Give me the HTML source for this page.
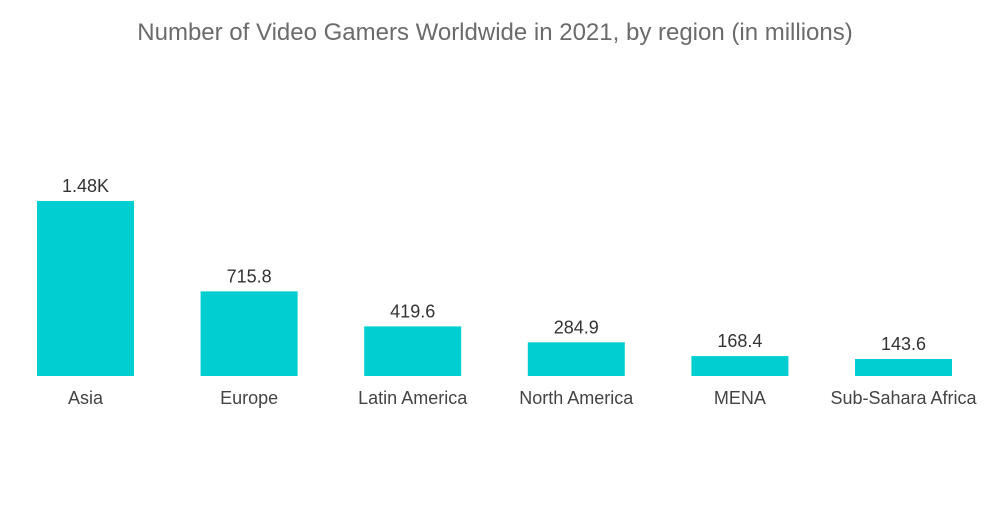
<!DOCTYPE html>
<html><head><meta charset="utf-8"><style>
body{margin:0;background:#fff;width:1000px;height:504px;overflow:hidden;font-family:"Liberation Sans",sans-serif}
</style></head><body>
<svg id="chart" width="1000" height="504" xmlns="http://www.w3.org/2000/svg">
<text x="495" y="40" text-anchor="middle" font-size="24" fill="#6b6b6b" font-family="Liberation Sans, sans-serif">Number of Video Gamers Worldwide in 2021, by region (in millions)</text>
<g id="bars"></g>
</svg>
<script>
const categories=["Asia","Europe","Latin America","North America","MENA","Sub-Sahara Africa"];
const values=[1480,715.8,419.6,284.9,168.4,143.6];
const valueLabels=["1.48K","715.8","419.6","284.9","168.4","143.6"];
const baseY=376, pxPerUnit=175/1480, x0=37, step=163.6, bw=97;
function yScale(v){return baseY-v*pxPerUnit;}
function xScale(i){return x0+i*step;}
const g=document.getElementById('bars');
const ns="http://www.w3.org/2000/svg";
categories.forEach((c,i)=>{
  const x=xScale(i), y=yScale(values[i]);
  const r=document.createElementNS(ns,'rect');
  
  
  r.setAttribute('x',x);r.setAttribute('y',y);r.setAttribute('width',bw);r.setAttribute('height',baseY-y);
  r.setAttribute('fill','#00ced1');
  g.appendChild(r);
  const t=document.createElementNS(ns,'text');
  
  
  t.setAttribute('x',x+bw/2);t.setAttribute('y',y-9);t.setAttribute('text-anchor','middle');
  t.setAttribute('font-size','18');t.setAttribute('fill','#333');
  t.textContent=valueLabels[i];g.appendChild(t);
  const l=document.createElementNS(ns,'text');
  
  
  l.setAttribute('x',x+bw/2);l.setAttribute('y',404);l.setAttribute('text-anchor','middle');
  l.setAttribute('font-size','18');l.setAttribute('fill','#444');
  l.textContent=c;g.appendChild(l);
});
</script>
</body></html>
